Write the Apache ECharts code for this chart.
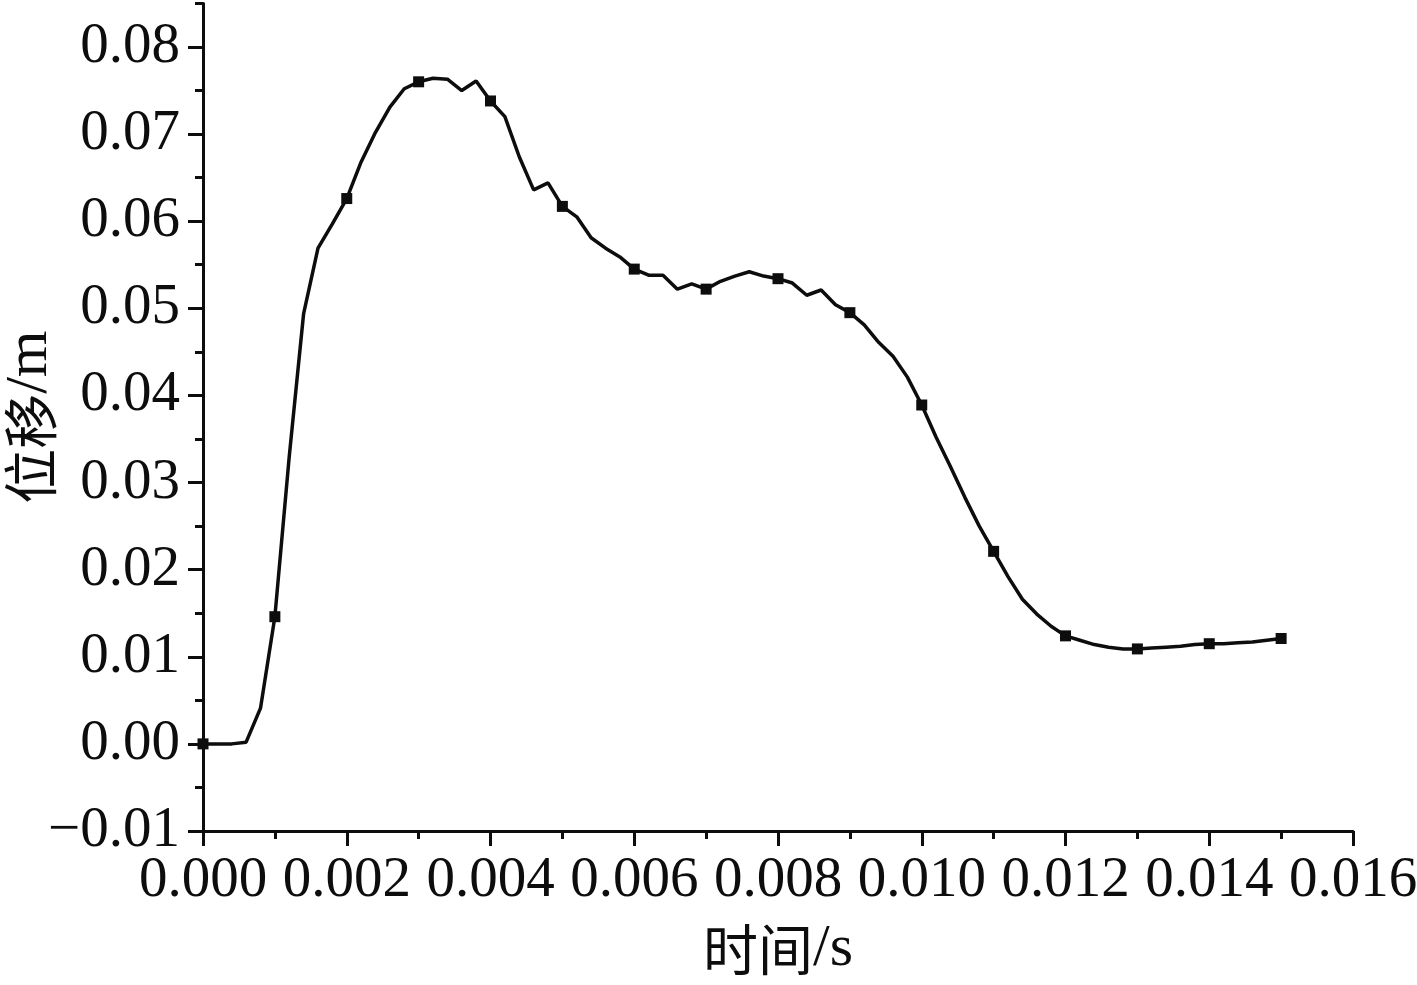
<!DOCTYPE html>
<html>
<head>
<meta charset="utf-8">
<script src="https://cdn.jsdelivr.net/npm/echarts@6/dist/echarts.min.js"></script>
<style>html,body{margin:0;padding:0;background:#fff}#c{width:1417px;height:985px}</style>
</head>
<body>
<div id="c"></div>
<script>
const time = [0,0.0002,0.0004,0.0006,0.0008,0.001,0.0012,0.0014,0.0016,0.0018,
  0.002,0.0022,0.0024,0.0026,0.0028,0.003,0.0032,0.0034,0.0036,0.0038,
  0.004,0.0042,0.0044,0.0046,0.0048,0.005,0.0052,0.0054,0.0056,0.0058,
  0.006,0.0062,0.0064,0.0066,0.0068,0.007,0.0072,0.0074,0.0076,0.0078,
  0.008,0.0082,0.0084,0.0086,0.0088,0.009,0.0092,0.0094,0.0096,0.0098,
  0.010,0.0102,0.0104,0.0106,0.0108,0.011,0.0112,0.0114,0.0116,0.0118,
  0.012,0.0122,0.0124,0.0126,0.0128,0.013,0.0132,0.0134,0.0136,0.0138,
  0.014,0.0142,0.0144,0.0146,0.0148,0.015];
const displacement = [0,0,0,0.0002,0.0041,0.0146,0.0330,0.0494,0.0569,0.0597,
  0.0626,0.0668,0.0702,0.0731,0.0752,0.0760,0.0764,0.0763,0.0750,0.0761,
  0.0738,0.0720,0.0674,0.0636,0.0644,0.0617,0.0605,0.0581,0.0569,0.0559,
  0.0545,0.0538,0.0538,0.0522,0.0528,0.0522,0.0531,0.0537,0.0542,0.0537,
  0.0534,0.0529,0.0515,0.0521,0.0504,0.0495,0.0481,0.0461,0.0445,0.0421,
  0.0389,0.0352,0.0318,0.0283,0.0250,0.0221,0.0192,0.0166,0.0149,0.0135,
  0.0124,0.0119,0.0114,0.0111,0.0109,0.0109,0.0110,0.0111,0.0112,0.0114,
  0.0115,0.0115,0.0116,0.0117,0.0119,0.0121];
const markerTimes = [0,0.001,0.002,0.003,0.004,0.005,0.006,0.007,0.008,0.009,0.010,0.011,0.012,0.013,0.014,0.015];
const xTicks = [0,0.002,0.004,0.006,0.008,0.010,0.012,0.014,0.016];
const yTicks = [-0.01,0,0.01,0.02,0.03,0.04,0.05,0.06,0.07,0.08];
const yMinorTicks = [-0.005,0.005,0.015,0.025,0.035,0.045,0.055,0.065,0.075,0.085];

const lineData = time.map((t, i) => [t, displacement[i]]);
const markerData = lineData.filter(p => markerTimes.some(m => Math.abs(m - p[0]) < 1e-9));

const FONT = 'Liberation Serif';
const CJK = 'Noto Sans CJK SC';
const INK = '#0d0d0d';
const nameRich = {
  c: {fontFamily: CJK, fontSize: 55, color: INK},
  l: {fontFamily: FONT, fontSize: 60, color: INK}
};
const chart = echarts.init(document.getElementById('c'), null, {renderer: 'canvas'});
chart.setOption({
  animation: false,
  backgroundColor: '#fff',
  grid: {left: 203, right: 64, top: 3.4, bottom: 154, containLabel: false, outerBoundsMode: 'none'},
  xAxis: {
    type: 'value', min: 0, max: 0.016, interval: 0.002,
    name: '{c|时间}{l|/s}', nameLocation: 'middle', nameGap: 88, nameMoveOverlap: false,
    nameTextStyle: {rich: nameRich},
    axisLine: {show: true, onZero: false, lineStyle: {color: INK, width: 3}},
    axisTick: {show: true, inside: false, length: 15, lineStyle: {color: INK, width: 3}},
    minorTick: {show: true, splitNumber: 2, length: 8, lineStyle: {color: INK, width: 3}},
    axisLabel: {fontFamily: FONT, fontSize: 57, color: INK, margin: 22,
      customValues: xTicks, formatter: v => v.toFixed(3)},
    splitLine: {show: false}, minorSplitLine: {show: false}
  },
  yAxis: [{
    type: 'value', min: -0.01, max: 0.085, position: 'left',
    name: '{c|位移}{l|/m}', nameLocation: 'middle', nameGap: 143, nameRotate: 90, nameMoveOverlap: false,
    nameTextStyle: {rich: nameRich},
    axisLine: {show: true, onZero: false, lineStyle: {color: INK, width: 3}},
    axisTick: {show: true, inside: false, length: 15, customValues: yTicks, lineStyle: {color: INK, width: 3}},
    axisLabel: {fontFamily: FONT, fontSize: 57, color: INK, margin: 23, padding: [0,0,20,0],
      customValues: yTicks,
      formatter: v => (v < 0 ? '\u2212' + Math.abs(v).toFixed(2) : v.toFixed(2))},
    splitLine: {show: false}
  }, {
    type: 'value', min: -0.01, max: 0.085, position: 'left',
    axisLine: {show: false},
    axisTick: {show: true, inside: false, length: 8, customValues: yMinorTicks, lineStyle: {color: INK, width: 3}},
    axisLabel: {show: false},
    splitLine: {show: false}
  }],
  series: [{
    type: 'line', data: lineData, yAxisIndex: 0, showSymbol: false, smooth: false,
    lineStyle: {color: INK, width: 3.5, opacity: 1}, z: 3
  }, {
    type: 'scatter', data: markerData, yAxisIndex: 0, symbol: 'rect', symbolSize: 11,
    itemStyle: {color: INK, opacity: 1}, z: 4
  }]
});
</script>
</body>
</html>
